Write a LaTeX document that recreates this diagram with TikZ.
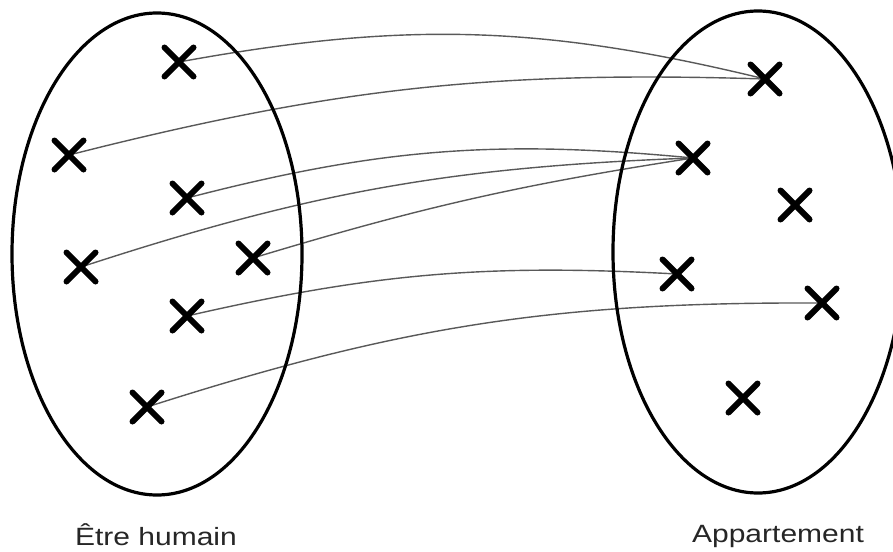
\documentclass[tikz,border=0pt]{standalone}
\usepackage{fontspec}
\newfontfamily\labelfont[FakeStretch=1.2]{Liberation Sans}
\usepackage{tikz}
\usetikzlibrary{shapes.misc,backgrounds}

\begin{document}
\begin{tikzpicture}[x=1pt,y=-1pt,
    elem/.style={cross out, draw, line width=6pt, line cap=round, minimum size=23pt, inner sep=0pt},
    link/.style={draw=black!65, line width=1.4pt},
    setname/.style={anchor=base, text=black!85, font=\labelfont\fontsize{25}{30}\selectfont}]
    \useasboundingbox (0,0) rectangle (893,551);

    % sets
    \draw[line width=3.2pt] (157,254) ellipse [x radius=145pt, y radius=241pt];
    \draw[line width=3.2pt] (758,252) ellipse [x radius=145pt, y radius=241pt];
    \node[setname] (humain) at (156,545) {Être humain};
    \node[setname] (appart) at (778,542) {Appartement};

    % elements (humains)
    \node[elem] (h1) at (179,62) {};
    \node[elem] (h2) at (69,155) {};
    \node[elem] (h3) at (187,198) {};
    \node[elem] (h4) at (81,267) {};
    \node[elem] (h5) at (253,258) {};
    \node[elem] (h6) at (187,316) {};
    \node[elem] (h7) at (147,407) {};

    % elements (appartements)
    \node[elem] (a1) at (765,79) {};
    \node[elem] (a2) at (693,158) {};
    \node[elem] (a3) at (795,205) {};
    \node[elem] (a4) at (677,274) {};
    \node[elem] (a5) at (822,303) {};
    \node[elem] (a6) at (743,398) {};

    % links
    \begin{scope}[on background layer]
        \draw[link] (h1.center) to[bend left=12] (a1.center);
        \draw[link] (h2.center) to[bend left=8] (a1.center);
        \draw[link] (h3.center) to[bend left=10] (a2.center);
        \draw[link] (h4.center) to[bend left=8] (a2.center);
        \draw[link] (h5.center) to[bend left=4] (a2.center);
        \draw[link] (h6.center) to[bend left=8] (a4.center);
        \draw[link] (h7.center) to[bend left=9] (a5.center);
    \end{scope}
\end{tikzpicture}
\end{document}
